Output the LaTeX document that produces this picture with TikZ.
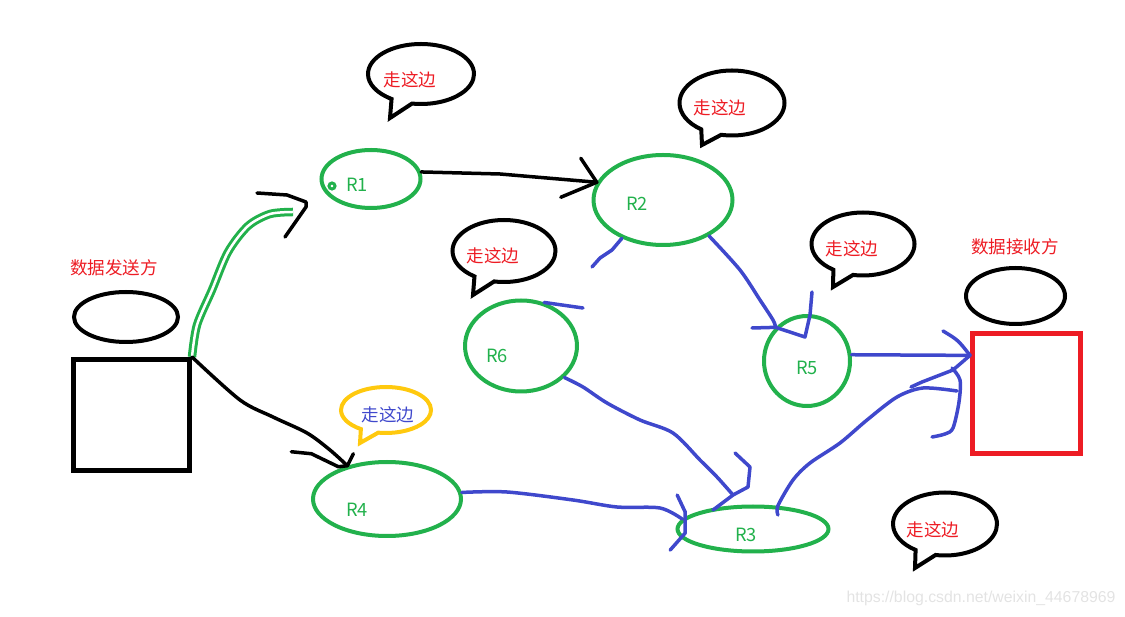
\documentclass[tikz,border=0pt]{standalone}
\usepackage{fontspec}
\usetikzlibrary{shapes.geometric, shapes.callouts}

\newfontfamily\cjk{Noto Sans CJK SC}
\newfontfamily\wmfont{Liberation Sans}
\newlength\pxu
\setlength\pxu{0.02cm}

\definecolor{pgreen}{RGB}{34,177,76}
\definecolor{pblue}{RGB}{63,72,204}
\definecolor{pred}{RGB}{237,28,36}
\definecolor{pyellow}{RGB}{255,201,14}

\begin{document}
\begin{tikzpicture}[x=0.02cm, y=-0.02cm,
	router/.style={ellipse, draw=pgreen, line width=4\pxu, inner sep=0pt},
	rname/.style={text=pgreen, font=\cjk\fontsize{10.4}{12}\selectfont},
	host/.style={rectangle, draw, line width=5\pxu, inner sep=0pt},
	lid/.style={ellipse, draw, line width=4\pxu, inner sep=0pt},
	bubble/.style={ellipse callout, draw, line width=4\pxu, inner sep=0pt, callout pointer arc=24},
	says/.style={text=pred, font=\cjk\fontsize{10}{12}\selectfont},
	pen/.style={line width=3.5\pxu, line cap=round, line join=round},
	bluepen/.style={pen, draw=pblue}
]
					\useasboundingbox (0,0) rectangle (1125,617);

					%% sender and receiver
					\node[host, minimum width=116\pxu, minimum height=111\pxu] (sender) at (131.5,415) {};
					\node[lid, minimum width=104\pxu, minimum height=50\pxu] (sendlid) at (126,317) {};
					\node[says] (sendtxt) at (114,268) {数据发送方};

					\node[host, draw=pred, minimum width=108\pxu, minimum height=120\pxu] (receiver) at (1026.5,393.5) {};
					\node[lid, minimum width=99\pxu, minimum height=56\pxu] (recvlid) at (1015.5,296) {};
					\node[says] (recvtxt) at (1015,247) {数据接收方};

					%% routers
					\node[router, minimum width=99\pxu, minimum height=58\pxu] (R1) at (371,179) {};
					\node[router, minimum width=139\pxu, minimum height=90\pxu] (R2) at (663,200) {};
					\node[router, minimum width=151\pxu, minimum height=45\pxu] (R3) at (753,529) {};
					\node[router, minimum width=148\pxu, minimum height=74\pxu] (R4) at (387,499) {};
					\node[router, minimum width=86\pxu, minimum height=90\pxu] (R5) at (807,361) {};
					\node[router, minimum width=112\pxu, minimum height=91\pxu] (R6) at (521,346) {};
					\node[circle, draw=pgreen, line width=3\pxu, minimum size=6\pxu, inner sep=0pt] (R1dot) at (332,186) {};

					\node[rname] (R1txt) at (357,184.5) {R1};
					\node[rname] (R2txt) at (637,203.5) {R2};
					\node[rname] (R3txt) at (746,535) {R3};
					\node[rname] (R4txt) at (357,510) {R4};
					\node[rname] (R5txt) at (807,368) {R5};
					\node[rname] (R6txt) at (497,356) {R6};

					%% speech bubbles
					\node[bubble, minimum width=106\pxu, minimum height=60\pxu, callout absolute pointer={(390,118)}] (b1) at (421,74) {};
					\node[bubble, minimum width=105\pxu, minimum height=65\pxu, callout absolute pointer={(702,145)}] (b2) at (732,103) {};
					\node[bubble, minimum width=103\pxu, minimum height=62\pxu, callout absolute pointer={(473,295)}] (b3) at (504,251) {};
					\node[bubble, minimum width=103\pxu, minimum height=63\pxu, callout absolute pointer={(833,287)}] (b4) at (863,244) {};
					\node[bubble, draw=pyellow, minimum width=90\pxu, minimum height=46\pxu, callout absolute pointer={(360,443)}] (b5) at (386,410) {};
					\node[bubble, minimum width=104\pxu, minimum height=63\pxu, callout absolute pointer={(915,568)}] (b6) at (945,524) {};

					\node[says] (b1txt) at (410,80) {走这边};
					\node[says] (b2txt) at (720,108) {走这边};
					\node[says] (b3txt) at (493,256) {走这边};
					\node[says] (b4txt) at (852,249) {走这边};
					\node[says, text=pblue] (b5txt) at (388,415) {走这边};
					\node[says] (b6txt) at (933,530) {走这边};

					%% sender -> R1 (green) and R1 -> R2 (black)
					\coordinate (toR1) at (293,212);
					\coordinate (tipR1) at (306,202);
					\draw[draw=pgreen, line width=3\pxu, double=white, double distance=2.5\pxu]
						plot[smooth] coordinates {(sender.north east) (197,325) (212,290) (228,252) (248,226) (270,214) (toR1)};
					\draw[pen] (257,193) -- (287,195) -- (tipR1) -- (306,207) -- (285,237);

					\draw[pen] (R1.8) -- (500,174) -- (R2.165);
					\draw[pen] (R2.165) ++(-16,-24) -- (R2.165) -- ++(-36,15);

					%% sender -> R4
					\draw[pen] plot[smooth] coordinates {(sender.north east) (240,400) (273,417) (307,433) (330,450) (R4.140)};
					\draw[pen] (R4.140) ++(-56,-14) -- ++(20,2) -- ++(27,13) -- (R4.140) -- ++(6,-12);

					%% R4 -> R3
					\draw[bluepen] plot[smooth] coordinates {(R4.5) (507,492) (573,500) (617,507) (660,508) (R3.172)};
					\draw[bluepen] (R3.172) ++(-5,-24) -- ++(8,17) -- ++(0,21) -- ++(-15,17);

					%% R6 -> R3
					\coordinate (tipR3) at (733,495);
					\draw[bluepen] plot[smooth] coordinates {(R6.-36) (583,387) (607,403) (640,420) (673,433) (700,460) (717,477) (tipR3)};
					\draw[bluepen] (735,453) -- (750,467) -- (748,487) -- (tipR3) -- (713,510);

					%% R2 -> R5
					\draw[bluepen] plot[smooth] coordinates {(R2.-38) (740,270) (760,300) (773,320) (R5.133)};
					\draw[bluepen] (752,328) -- (R5.133) -- (805,337) -- (810,315) -- (812,292);

					%% R5 -> receiver
					\draw[bluepen] (R5.8) -- (receiver.146);
					\draw[bluepen] (943,331) .. controls (958,340) .. (receiver.146);
					\draw[bluepen] (911,387) -- (922,382) -- (953,370) -- (receiver.146);

					%% R3 -> receiver
					\coordinate (toRecv) at (957,391);
					\draw[bluepen] plot[smooth] coordinates {(778,515) (R3.43) (793,480) (810,463) (840,443) (867,420) (897,397) (923,388) (toRecv)};
					\draw[bluepen] plot[smooth] coordinates {(952,368) (960,380) (959,402) (953,428) (945,434) (932,437)};

					%% stray strokes
					\draw[bluepen] (R2.-137) -- (612,250) -- (600,258) -- (592,267);
					\draw[bluepen] (R6.62) -- (583,308);

					\node[text=gray!22, font=\wmfont\fontsize{9}{11}\selectfont] (wm) at (981,598) {https://blog.csdn.net/weixin\_44678969};
				\end{tikzpicture}
\end{document}
